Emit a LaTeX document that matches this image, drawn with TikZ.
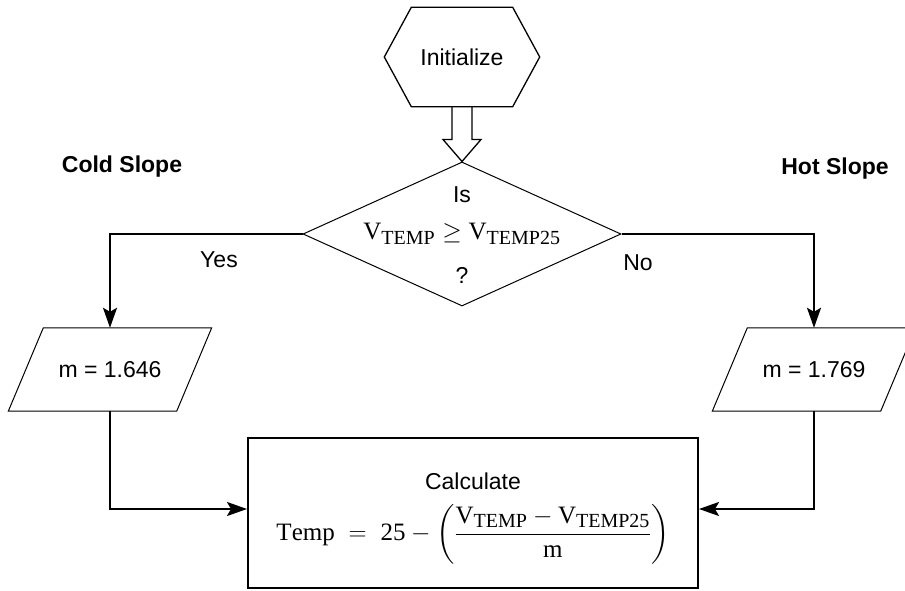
\RequirePackage{fix-cm}
\documentclass[tikz,border=0pt]{standalone}
\usepackage{amsmath}
\usepackage{fontspec}
\setmainfont{Liberation Sans}
\setmathrm{Liberation Serif}
\DeclareMathSizes{25}{25}{20}{15}
\usepackage{tikz}
\usetikzlibrary{arrows.meta,positioning,calc,shapes.geometric}
\tikzstyle{hexa}=[minimum width=155pt,minimum height=99pt,inner sep=0pt]
\tikzstyle{decision}=[draw,diamond,line width=1pt,minimum width=318pt,minimum height=144pt,inner sep=0pt]
\tikzstyle{io}=[minimum width=203pt,minimum height=83pt,inner sep=0pt]
\tikzstyle{box}=[draw,line width=2pt,minimum width=450pt,minimum height=150pt,inner sep=0pt]
\tikzstyle{outline}=[line width=1pt,line join=miter]
\tikzstyle{flow}=[line width=2pt,-{Stealth[length=20pt,width=14pt,inset=4pt]}]
\newcommand{\formsize}{\fontsize{25}{30}\selectfont}
\newcommand{\Vsub}[1]{\mathrm{V}_{\mathrm{#1}}}

\begin{document}
\begin{tikzpicture}[x=1pt,y=1pt,inner sep=0pt,font=\fontsize{23}{27}\selectfont]
\useasboundingbox (0,0) rectangle (905,590);
\clip (0,0) rectangle (905,590);
% start
\node [hexa] (init) at (462,533) {Initialize};
\draw [outline,line width=1.3pt] ([xshift=27pt]init.north west) -- ([xshift=-27pt]init.north east) -- (init.east)
  -- ([xshift=-27pt]init.south east) -- ([xshift=27pt]init.south west) -- (init.west) -- cycle;
% test
\node [decision] (test) at (462,356) {};
\node (is) at ([yshift=39pt]test.center) {Is};
\node (cond) at (test.center) {\formsize$\Vsub{TEMP}\geq\Vsub{TEMP25}$};
\node (qmark) at ([yshift=-41pt]test.center) {?};
\draw [outline,line width=1.3pt] ([xshift=-10pt]init.south) -- ([xshift=-10pt,yshift=22pt]test.north)
  -- ([xshift=-19pt,yshift=22pt]test.north) -- (test.north) -- ([xshift=19pt,yshift=22pt]test.north)
  -- ([xshift=10pt,yshift=22pt]test.north) -- ([xshift=10pt]init.south);
% slopes
\node [io] (cold) at (110,220.5) {m = 1.646};
\draw [outline] ([xshift=35pt]cold.north west) -- (cold.north east) -- ([xshift=-35pt]cold.south east) -- (cold.south west) -- cycle;
\node [io] (hot) at (814,220.5) {m = 1.769};
\draw [outline] ([xshift=35pt]hot.north west) -- (hot.north east) -- ([xshift=-35pt]hot.south east) -- (hot.south west) -- cycle;
\node (coldlabel) at (122,423) {\bfseries Cold Slope};
\node (hotlabel) at (835,421) {\bfseries Hot Slope};
\node (yes) at (219,330) {Yes};
\node (no) at (638,327) {No};
% result
\node [box] (calc) at (473,77) {};
\node (calctext) at ([yshift=32pt]calc.center) {Calculate};
\node (formula) at ([yshift=-21pt]calc.center)
  {\formsize$\mathrm{Temp}\ =\ \mathrm{25}-\left(\dfrac{\Vsub{TEMP}-\Vsub{TEMP25}}{\mathrm{m}}\right)$};
% connectors
\draw [flow] (test.west) -| (cold.north);
\draw [flow] (test.east) -| (hot.north);
\draw [flow] (cold.south) |- ([yshift=4pt]calc.west);
\draw [flow] (hot.south) |- ([yshift=4pt]calc.east);
\end{tikzpicture}
\end{document}
